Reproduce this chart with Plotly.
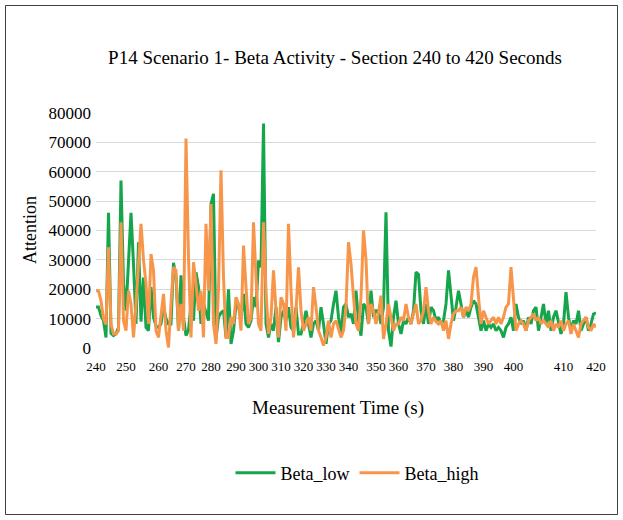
import plotly.graph_objects as go

# ---------------- data ----------------
tick_labels = ["240", "250", "260", "270", "280", "290", "300", "310", "320", "330",
               "340", "350", "360", "370", "380", "390", "400", "410", "420"]
# sample index at which each time label sits (irregular sampling)
tick_index = [0, 12, 25, 36, 46, 56, 65, 74, 83, 92,
              101, 112, 121, 132, 143, 155, 167, 187, 200]

beta_low = [
    14000, 14000, 11000, 9300, 3600, 46000, 5000, 4200, 4800, 7000,
    57000, 22000, 12700, 30000, 46000, 28600, 8200, 36000, 9000, 24000,
    7000, 5900, 20700, 10500, 7500, 7000, 8200, 14000, 10000, 8200,
    8200, 29000, 24000, 5900, 24700, 10500, 4200, 6000, 15000, 9300,
    25800, 20700, 8200, 15000, 12000, 9300, 49000, 52500, 3000, 10500,
    12000, 12700, 3600, 20000, 1400, 5900, 15000, 13900, 10500, 18400,
    8200, 7000, 9300, 17300, 13900, 29800, 27500, 76400, 8200, 3600,
    8200, 5900, 13900, 2000, 10500, 12700, 9300, 13900, 7000, 5900,
    13900, 4800, 4800, 8200, 12700, 8200, 3600, 8200, 9300, 5900,
    13900, 8200, 1400, 8200, 9300, 15000, 19500, 10500, 5000, 13900,
    15000, 10500, 11600, 8200, 19500, 9300, 4200, 15000, 13900, 8200,
    19500, 10500, 12700, 12700, 8200, 13900, 46200, 5900, 500, 10500,
    16100, 8200, 4800, 9300, 8200, 10500, 8200, 12700, 25800, 25000,
    12700, 8200, 15000, 8200, 13900, 12700, 9300, 10500, 8200, 9300,
    15000, 26400, 17300, 9300, 13900, 19500, 15000, 10500, 12700, 10500,
    13900, 16100, 15000, 10500, 5900, 9300, 5900, 8200, 7000, 8200,
    5900, 7000, 5900, 3600, 7000, 8200, 10500, 5900, 15000, 10500,
    8200, 9300, 5900, 10500, 8200, 12700, 13900, 5900, 10500, 15000,
    8200, 12700, 5900, 10500, 12700, 8200, 4800, 8200, 19000, 10500,
    5900, 9300, 8200, 12700, 5900, 8200, 10500, 5900, 8200, 11600,
    12000,
]

beta_high = [
    19500, 19500, 16000, 10000, 8000, 34300, 8000, 4800, 4800, 5900,
    42800, 9300, 5900, 19500, 15000, 3600, 15000, 30900, 42300, 30000,
    21800, 8200, 32000, 26400, 5900, 3600, 10500, 18400, 5900, 200,
    15000, 27500, 26400, 5900, 15000, 5900, 71300, 30900, 3600, 29200,
    21800, 12700, 19500, 3600, 42300, 19500, 49000, 8200, 1400, 20000,
    60500, 24100, 3600, 3600, 10500, 8200, 17300, 15000, 5900, 34900,
    20700, 8200, 10500, 42800, 24100, 8200, 5900, 42800, 19500, 4800,
    10500, 26400, 12700, 3600, 17300, 15000, 5900, 42300, 19500, 3600,
    12700, 27500, 12700, 5900, 8200, 10500, 5900, 20700, 13900, 5900,
    3600, 800, 3600, 9300, 3600, 8200, 9300, 6000, 3600, 5900,
    13900, 36000, 28600, 17300, 8200, 5900, 17300, 40000, 30000, 8200,
    15000, 12700, 8200, 12000, 17800, 3100, 8200, 15000, 10500, 5900,
    8200, 8200, 10500, 9300, 15000, 10500, 8200, 11600, 15000, 8200,
    9300, 12700, 20700, 12700, 8200, 10500, 9000, 8200, 9300, 5900,
    9300, 3100, 8200, 11600, 12700, 12700, 13900, 10500, 13900, 12700,
    15000, 24100, 27500, 17300, 8200, 12700, 10500, 8200, 9300, 10500,
    8200, 10500, 8200, 10500, 13900, 15000, 27500, 15000, 5900, 8200,
    9300, 8200, 5900, 9300, 10500, 11600, 9300, 10500, 8200, 9300,
    8200, 7000, 9300, 5900, 8200, 7000, 9300, 5900, 8200, 9300,
    4800, 8200, 5900, 3600, 8200, 9300, 10500, 7000, 5900, 8200,
    7000,
]

y_ticks = [0, 10000, 20000, 30000, 40000, 50000, 60000, 70000, 80000]

# ---------------- layout constants ----------------
W, H = 623, 520
L, R, T, B = 96, 27, 113, 172
PW, PH = W - L - R, H - T - B
FONT = "Liberation Serif, Times New Roman, serif"
GREEN = "#15a54b"
ORANGE = "#f7964a"


def px(x):
    return (x - L) / PW


def py(y):
    return (H - B - y) / PH


idx = list(range(len(beta_low)))

fig = go.Figure()
fig.add_trace(go.Scatter(x=idx, y=beta_low, mode="lines", name="Beta_low",
                         line=dict(color=GREEN, width=3)))
fig.add_trace(go.Scatter(x=idx, y=beta_high, mode="lines", name="Beta_high",
                         line=dict(color=ORANGE, width=3)))

fig.update_layout(
    width=W, height=H,
    margin=dict(l=L, r=R, t=T, b=B, pad=0),
    paper_bgcolor="white", plot_bgcolor="white",
    font=dict(family=FONT, color="#000000", size=16),
    title=dict(text="P14 Scenario 1- Beta Activity - Section 240 to 420 Seconds",
               x=335 / W, xanchor="center", y=1 - 57 / H, yanchor="middle",
               xref="container", yref="container",
               font=dict(family=FONT, size=19, color="#000000")),
    showlegend=True,
    legend=dict(orientation="h", x=px(357), y=py(473), xanchor="center",
                yanchor="middle", font=dict(family=FONT, size=18),
                bgcolor="rgba(0,0,0,0)", itemwidth=40, tracegroupgap=0),
    xaxis=dict(range=[0, len(beta_low) - 1], tickmode="array", tickvals=tick_index,
               ticktext=tick_labels, showgrid=False, zeroline=False,
               showline=False, ticks="", tickangle=0,
               tickfont=dict(family=FONT, size=13), ticklabelstandoff=9),
    yaxis=dict(range=[0, 80000], tickmode="array", tickvals=y_ticks,
               ticktext=[str(v) for v in y_ticks], showgrid=True,
               gridcolor="#d9d9d9", gridwidth=1, zeroline=False,
               showline=False, ticks="", tickfont=dict(family=FONT, size=17),
               ticklabelstandoff=4),
    annotations=[
        dict(text="Attention", xref="paper", yref="paper", x=px(30), y=py(230),
             showarrow=False, textangle=-90, xanchor="center", yanchor="middle",
             font=dict(family=FONT, size=18)),
        dict(text="Measurement Time (s)", xref="paper", yref="paper", x=px(338),
             y=py(408), showarrow=False, xanchor="center", yanchor="middle",
             font=dict(family=FONT, size=19)),
    ],
    shapes=[
        dict(type="rect", xref="paper", yref="paper",
             x0=px(5.5), x1=px(617.5), y0=py(514.5), y1=py(5.5),
             line=dict(color="#404040", width=1), fillcolor="rgba(0,0,0,0)",
             layer="below"),
    ],
)

fig.write_html("out.html")
